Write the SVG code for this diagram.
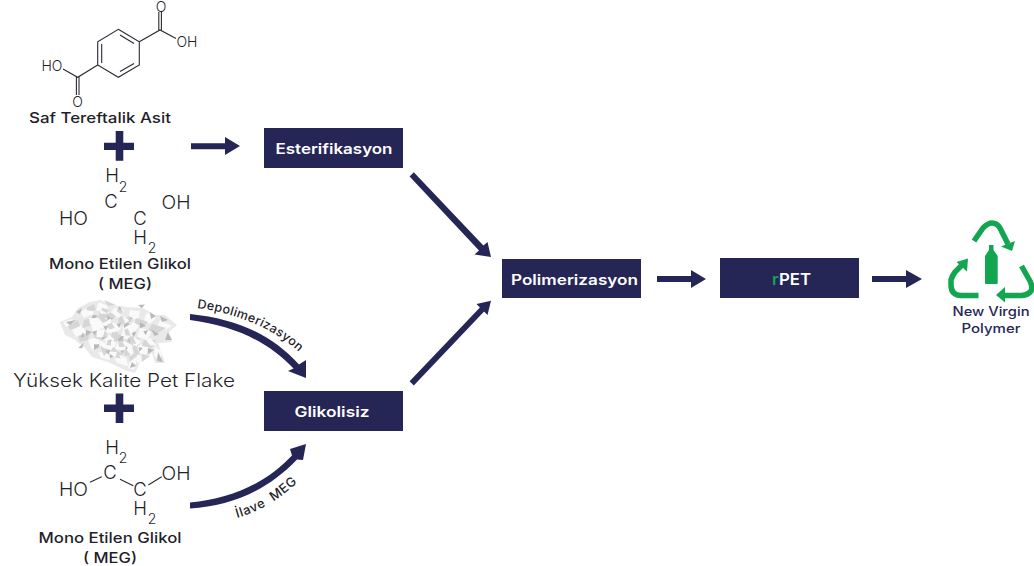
<svg xmlns="http://www.w3.org/2000/svg" width="1034" height="566" viewBox="0 0 1034 566">
<style>
text{font-family:"Inter","Liberation Sans",sans-serif;fill:#1f1f2b}
.lab{font-size:14.5px;font-weight:500;text-anchor:middle}
.chem{font-size:18.5px;font-weight:300;text-anchor:middle}
.atom{font-size:14px;font-weight:300;text-anchor:middle}
.sub{font-size:14px;font-weight:300;text-anchor:middle}
.bond{fill:none;stroke:#2a2a33;stroke-width:1.1}
.box{fill:#252655}
.boxt{font-size:14.5px;font-weight:600;fill:#fff;text-anchor:middle}
.arr{fill:#252655}
.cl{font-size:12.5px;font-weight:500;fill:#1f1f2b;letter-spacing:.35px}
.cl2{font-size:13px;font-weight:500;fill:#1f1f2b;letter-spacing:.6px}
.rec{fill:none;stroke:#12a650;stroke-width:5.500}
.g{fill:#12a650}
.f0{fill:#e9e9e9}.f1{fill:#fafafa}.f2{fill:#d6d6d6}.f3{fill:#b9b9b9}
.gl{font-size:12.5px;font-weight:500;fill:#252655;text-anchor:middle}
</style>
<defs>
<path id="t1" d="M197 308C235 313 275 328 302 355" fill="none"/>
<path id="t2" d="M237 518C262 511 283 497 301 479" fill="none"/>
<filter id="soft" x="-5%" y="-5%" width="110%" height="110%"><feGaussianBlur stdDeviation="0.7"/></filter>
<path id="sh1" class="f1" d="M63 322L72 319L76 324L66 327ZM80 312L90 306L94 313L84 318ZM99 302L108 306L104 312L96 310ZM114 308L124 310L120 318L112 316ZM130 310L140 311L138 320L128 317ZM147 312L156 318L150 324L144 320ZM160 320L172 326L165 330L157 326ZM72 330L82 325L86 333L76 337ZM90 322L100 318L104 328L93 331ZM108 322L118 324L115 334L106 332ZM124 324L135 326L132 336L122 334ZM140 328L152 331L147 340L137 337ZM88 340L98 336L101 346L92 350ZM106 340L116 342L114 352L104 350ZM121 342L131 341L133 352L122 354ZM138 344L149 345L146 355L136 353ZM98 352L108 353L110 360L101 358ZM116 358L126 357L128 366L117 363ZM155 346L162 352L160 360L154 356ZM130 360L137 358L134 370L128 368Z"/>
<path id="sh2" class="f2" d="M68 326L78 320L80 326L70 330ZM84 320L94 318L90 326L82 328ZM100 310L112 314L106 320L98 318ZM120 316L132 320L126 326L118 322ZM136 318L148 322L142 328L134 325ZM152 324L166 328L156 334L148 330ZM78 336L90 332L88 340L80 342ZM96 330L106 332L102 340L94 338ZM112 332L124 336L118 342L110 340ZM128 336L140 338L134 346L126 342ZM144 340L156 340L152 348L142 346ZM100 346L110 350L104 356ZM114 350L124 354L118 360ZM128 352L138 354L130 362ZM142 354L150 356L142 362ZM86 308L94 304L96 310L88 312ZM104 300L116 305L108 306Z"/>
<path id="sh3" class="f3" d="M66 322L76 320L70 325ZM92 314L98 316L92 320ZM108 316L114 318L108 322ZM124 322L130 324L124 328ZM140 322L146 326L140 328ZM160 316L168 320L162 322ZM86 330L92 332L86 336ZM102 334L108 336L102 340ZM118 338L124 340L118 344ZM134 342L140 344L134 348ZM148 348L154 350L148 354ZM94 344L100 346L94 350ZM110 354L116 356L110 358ZM126 346L130 350L125 352ZM158 352L163 362L157 361ZM132 362L136 366L130 368ZM116 312L120 306L122 312ZM76 312L82 308L80 314ZM168 332L172 340L165 340Z"/>
</defs>

<g id="tpa">
<path class="bond" d="M118.300 29.300L139.300 41.700V65L118.300 77.300L97.700 65V41.700ZM101.700 44V63M120 35L134 43.500M120 71.500L134 63.500M139.300 41.700L160 30L176 38.500M158.800 30V12M161.400 30V12M97.700 65L77.700 77.300L63 69M76.400 77V95M79 77V95"/>
<text class="atom" x="161" y="11.500">O</text><text class="atom" x="187" y="47">OH</text>
<text class="atom" x="52" y="70.500">HO</text><text class="atom" x="77.500" y="106.500">O</text>
<text class="lab" x="100" y="123" textLength="142" lengthAdjust="spacingAndGlyphs">Saf Tereftalik Asit</text>
</g>
<g id="plus1"><path class="arr" d="M104 142.700H115.700V131H123.300V142.700H134V150H123.300V160.700H115.700V150H104Z"/></g>
<g id="meg1">
<text class="chem" x="112" y="182">H</text><text class="sub" x="123" y="192">2</text>
<text class="chem" x="111" y="208">C</text><text class="chem" x="176" y="209" textLength="29" lengthAdjust="spacingAndGlyphs">OH</text>
<text class="chem" x="73.500" y="225" textLength="29" lengthAdjust="spacingAndGlyphs">HO</text><text class="chem" x="140" y="225">C</text>
<text class="chem" x="140" y="244">H</text><text class="sub" x="152" y="253">2</text>
<text class="lab" x="120" y="269" textLength="142" lengthAdjust="spacingAndGlyphs">Mono Etilen Glikol</text>
<text class="lab" x="125" y="289" textLength="54" lengthAdjust="spacingAndGlyphs">( MEG)</text>
</g>
<g id="flake">
<g filter="url(#soft)">
<path class="f0" d="M60 322L72 317L78 308L90 302L100 300L112 305L127 307L143 308L155 315L165 315L177 325L168 333L172 342L158 343L165 363L155 363L152 353L140 362L135 373L127 371L108 362L92 357L85 348L75 340L65 335Z"/>
<use href="#sh1"/><use href="#sh2"/><use href="#sh3"/>
<use href="#sh1" transform="rotate(24 118 335) translate(118 335) scale(.72) translate(-118 -335)"/>
<use href="#sh3" transform="rotate(-32 118 335) translate(118 335) scale(.78) translate(-118 -335)"/>
<use href="#sh2" transform="rotate(50 118 335) translate(118 335) scale(.62) translate(-118 -335)"/>
</g>
<text x="124" y="387" text-anchor="middle" font-size="18" font-weight="300" textLength="222" lengthAdjust="spacingAndGlyphs">Yüksek Kalite Pet Flake</text>
</g>
<g id="plus2"><path class="arr" d="M104 404.500H115.700V393.500H123.300V404.500H134V412H123.300V423H115.700V412H104Z"/></g>
<g id="meg2">
<path class="bond" d="M90 482.300L101.700 476.700M120 479.300L133.300 485.700M148.300 485L161.700 476.700"/>
<text class="chem" x="112" y="453.500">H</text><text class="sub" x="123" y="463">2</text>
<text class="chem" x="110" y="479">C</text><text class="chem" x="176" y="480" textLength="29" lengthAdjust="spacingAndGlyphs">OH</text>
<text class="chem" x="73.500" y="496" textLength="29" lengthAdjust="spacingAndGlyphs">HO</text><text class="chem" x="140" y="496">C</text>
<text class="chem" x="140" y="515">H</text><text class="sub" x="152" y="524">2</text>
<text class="lab" x="110" y="543" textLength="143" lengthAdjust="spacingAndGlyphs">Mono Etilen Glikol</text>
<text class="lab" x="110" y="563" textLength="54" lengthAdjust="spacingAndGlyphs">( MEG)</text>
</g>

<g id="esterifikasyon"><rect class="box" x="264" y="128" width="139" height="40"/><text class="boxt" x="334" y="154" textLength="117" lengthAdjust="spacingAndGlyphs">Esterifikasyon</text></g>
<g id="polimerizasyon"><rect class="box" x="502" y="259" width="139" height="39"/><text class="boxt" x="574.500" y="285" textLength="127" lengthAdjust="spacingAndGlyphs">Polimerizasyon</text></g>
<g id="rpet"><rect class="box" x="720" y="258" width="139" height="40"/><text class="boxt" x="791.500" y="285" style="font-size:16px" textLength="39" lengthAdjust="spacingAndGlyphs"><tspan fill="#12a650">r</tspan>PET</text></g>
<g id="glikolisiz"><rect class="box" x="264" y="391" width="139" height="40"/><text class="boxt" x="332" y="417" textLength="75" lengthAdjust="spacingAndGlyphs">Glikolisiz</text></g>

<g id="connectors">
<path class="arr" d="M191 143.300H225V137L240 146L225 155V149.300H191Z"/>
<path class="arr" d="M413.800 172.200L483.400 245.500L487.500 242L491 257L474.500 254.500L479 250.500L409.600 176.400Z"/>
<path class="arr" d="M409.600 381.200L479.900 307.400L476.500 304L491 300.700L487.500 315L484.100 311.600L413.800 385.400Z"/>
<path class="arr" d="M657 276H691V270L706 279L691 288V282H657Z"/>
<path class="arr" d="M872 276H906V270L922 279L906 288V282H872Z"/>
<path class="arr" d="M190 314C238 319 272 335 299 364.500L306 360L306 378L288 371L293.500 368.500C268 342 236 326 190 320Z"/>
<path class="arr" d="M190 502.500C230 499 265 484 292 455.500L290 449L306 444L303 460L297 459.500C268 490 232 506 190 508.500Z"/>
</g>
<g id="labels">
<text class="cl"><textPath href="#t1">Depolimerizasyon</textPath></text>
<text class="cl2" xml:space="preserve"><textPath href="#t2">İlave  MEG</textPath></text>
</g>
<g id="recycle">
<path class="rec" d="M974 241L983 228Q988 223 992 223Q997 223 1000 228L1008 244"/>
<path class="g" d="M1001 246.500L1015 241L1012 251Z"/>
<path class="rec" d="M978.500 295.500H961Q951 295 951 285V280Q952 276 955 272L962 265"/>
<path class="g" d="M956.500 262L968 258.500L967 271.500Z"/>
<path class="rec" d="M1021.500 266L1030 281Q1033 287 1031 291Q1028 295 1022 295.500H1003"/>
<path class="g" d="M996 295L1005 287V302.500Z"/>
<path class="g" d="M989 245H993.500V250L997.700 256V283Q997.700 284 996.700 284H986Q985 284 985 283V256L989 250Z"/>
<text class="gl" x="991" y="316" textLength="77" lengthAdjust="spacingAndGlyphs">New Virgin</text>
<text class="gl" x="991" y="333" textLength="59" lengthAdjust="spacingAndGlyphs">Polymer</text>
</g>
</svg>
